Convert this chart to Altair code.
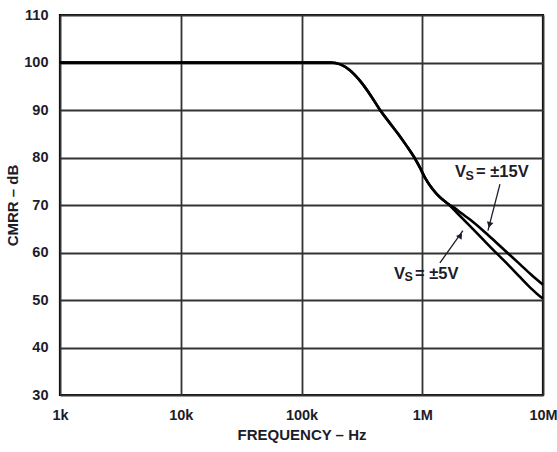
import altair as alt
import pandas as pd

# CMRR vs frequency: shared roll-off, then the two supply-voltage curves split
common_freq = [1e3, 1e4, 1e5, 1.75e5, 2.1e5, 2.5e5, 3.15e5, 3.8e5, 4.47e5, 5.3e5, 6.3e5, 7.4e5,
               8.6e5, 9.6e5, 1.05e6, 1.15e6, 1.32e6, 1.5e6, 1.64e6]
common_db = [100, 100, 100, 100, 99.6, 98.4, 95.7, 92.8, 90.0, 87.5, 85.0, 82.5,
             80.0, 77.8, 75.8, 74.2, 72.3, 71.0, 70.2]

hi_freq = [1.85e6, 2.1e6, 2.5e6, 3.2e6, 4.14e6, 5.2e6, 6.46e6, 8.0e6, 1e7]
hi_db = [69.4, 68.3, 66.9, 64.6, 62.0, 59.7, 57.5, 55.3, 53.2]

lo_freq = [2.0e6, 2.5e6, 3.2e6, 4.14e6, 5.2e6, 6.46e6, 8.0e6, 9.2e6, 1e7]
lo_db = [68.0, 65.5, 62.7, 59.8, 57.3, 54.8, 52.4, 51.0, 50.3]

x_ticks = [1e3, 1e4, 1e5, 1e6, 1e7]
x_tick_labels = ["1k", "10k", "100k", "1M", "10M"]
y_ticks = [30, 40, 50, 60, 70, 80, 90, 100, 110]

rows = []
for name, f_tail, d_tail in [("±15V", hi_freq, hi_db), ("±5V", lo_freq, lo_db)]:
    for i, (f, d) in enumerate(zip(common_freq + f_tail, common_db + d_tail)):
        rows.append({"series": name, "freq": f, "db": d, "order": i})
curves = pd.DataFrame(rows)

# annotation arrows: tail -> tip, plus head position and heading
arrows = pd.DataFrame({
    "series": ["±15V", "±5V"],
    "f0": [4.4e6, 1.4e6], "d0": [74.4, 57.8],
    "f1": [3.5e6, 2.17e6], "d1": [64.6, 64.6],
    "fh": [3.62e6, 2.05e6], "dh": [66.0, 63.4],
    "angle": [194, 34],
})

# annotation labels: "V", subscript "S", then the supply value
labels = pd.DataFrame({
    "series": ["±15V", "±5V"],
    "f": [1.87e6, 0.583e6], "d": [76.9, 55.5],
    "rest": ["= ±15V", "= ±5V"],
})

FONT = "Liberation Sans"
INK = "#1c1c2a"

x_scale = alt.Scale(type="log", domain=[1e3, 1e7], nice=False)
y_scale = alt.Scale(domain=[30, 110], nice=False)

label_expr = "{" + ",".join(f"'{int(v)}':'{t}'" for v, t in zip(x_ticks, x_tick_labels)) + "}[datum.value]"

base = alt.Chart(curves).encode(
    x=alt.X("freq:Q", scale=x_scale,
            axis=alt.Axis(values=x_ticks, labelExpr=label_expr, title="FREQUENCY – Hz",
                          grid=True, ticks=False, domain=False, labelPadding=13,
                          labelFlush=False, titlePadding=6)),
    y=alt.Y("db:Q", scale=y_scale,
            axis=alt.Axis(values=y_ticks, title="CMRR – dB", grid=True, ticks=False,
                          domain=False, labelPadding=12, titlePadding=3)),
)

lines = base.mark_line(color="black", strokeWidth=2.6, interpolate="monotone").encode(
    detail="series:N", order="order:Q"
)

rules = alt.Chart(arrows).mark_rule(color=INK, strokeWidth=1.3).encode(
    x=alt.X("f0:Q", scale=x_scale), y=alt.Y("d0:Q", scale=y_scale),
    x2="f1:Q", y2="d1:Q",
)
heads = alt.Chart(arrows).mark_point(shape="triangle", filled=True, color=INK, size=45, opacity=1).encode(
    x=alt.X("fh:Q", scale=x_scale), y=alt.Y("dh:Q", scale=y_scale),
    angle=alt.Angle("angle:Q", scale=None),
)

txt_v = alt.Chart(labels).mark_text(font=FONT, fontWeight="bold", fontSize=16.5, align="left",
                                    baseline="middle", color=INK).encode(
    x=alt.X("f:Q", scale=x_scale), y=alt.Y("d:Q", scale=y_scale), text=alt.value("V"))
txt_s = alt.Chart(labels).mark_text(font=FONT, fontWeight="bold", fontSize=12.5, align="left",
                                    baseline="middle", color=INK, dx=10.5, dy=3.5).encode(
    x=alt.X("f:Q", scale=x_scale), y=alt.Y("d:Q", scale=y_scale), text=alt.value("S"))
txt_r = alt.Chart(labels).mark_text(font=FONT, fontWeight="bold", fontSize=16.5, align="left",
                                    baseline="middle", color=INK, dx=21).encode(
    x=alt.X("f:Q", scale=x_scale), y=alt.Y("d:Q", scale=y_scale), text="rest:N")

chart = alt.layer(lines, rules, heads, txt_v, txt_s, txt_r).properties(
    width=483, height=380,
    autosize=alt.AutoSizeParams(type="none"),
    padding={"left": 60, "top": 15, "right": 14, "bottom": 57},
    background="white",
).configure_view(
    stroke="black", strokeWidth=2.2
).configure_axis(
    gridColor="#333333", gridWidth=1.8, gridOpacity=1,
    labelFont=FONT, labelFontWeight="bold", labelFontSize=14.5, labelColor=INK,
    titleFont=FONT, titleFontWeight="bold", titleFontSize=15, titleColor=INK,
)

chart.save("out.html", embed_options={"renderer": "svg", "actions": False})
